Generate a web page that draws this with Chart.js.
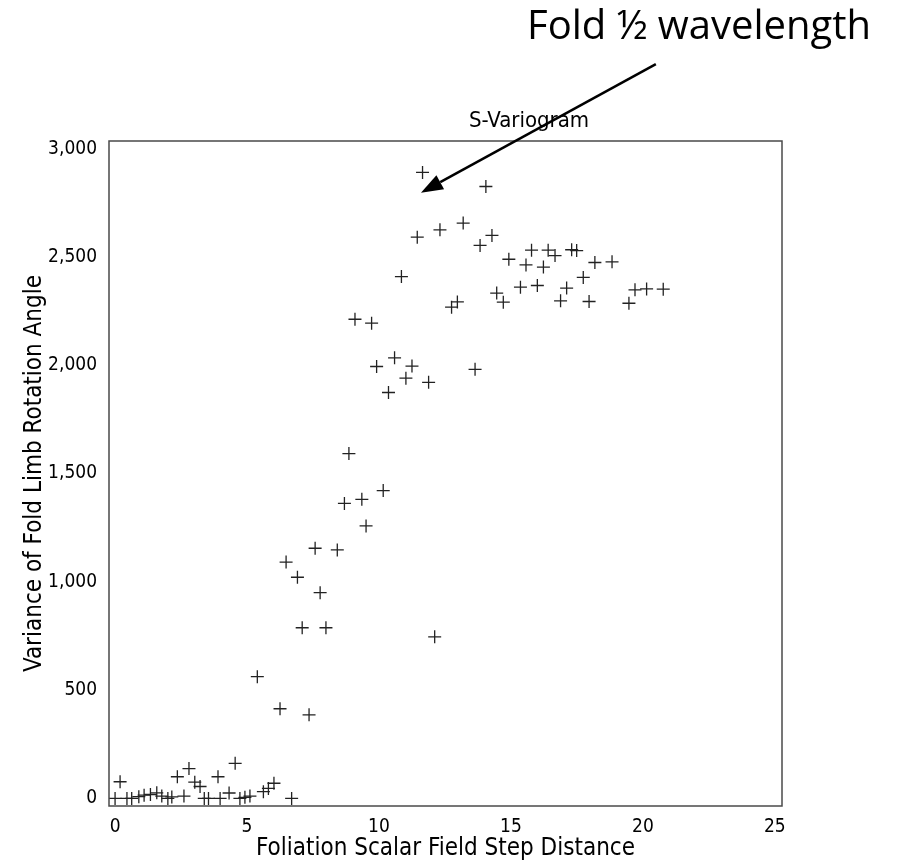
<!DOCTYPE html>
<html>
<head>
<meta charset="utf-8">
<script src="https://cdn.jsdelivr.net/npm/chart.js@4.4.1/dist/chart.umd.min.js"></script>
<style>
  html, body { margin: 0; padding: 0; background: #fff; }
  #wrap { width: 900px; height: 867px; }
</style>
</head>
<body>
<div id="wrap"><canvas id="chart1" width="900" height="867"></canvas></div>
<script>
// step distance (x) and variance (y)
const stepDist = [
  0.0, 0.19, 0.45, 0.63, 0.9, 1.1, 1.34, 1.58, 1.77, 2.0,
  2.15, 2.36, 2.61, 2.8, 3.02, 3.22, 3.38, 3.54, 3.9, 3.98,
  4.32, 4.55, 4.73, 4.92, 5.11, 5.62, 5.81, 6.02, 6.69,
  5.39, 6.25, 7.35, 6.48, 6.91, 7.09, 7.58, 7.77, 7.99, 8.42,
  8.69, 8.86, 9.35, 9.51, 10.16, 12.11, 9.09, 9.72, 9.91, 10.36,
  10.59, 10.85, 11.02, 11.25, 11.45, 11.65, 11.88, 12.31, 12.75, 12.97,
  13.19, 13.64, 13.83, 14.05, 14.28, 14.46, 14.71, 14.92, 15.36, 15.57,
  15.78, 16.0, 16.23, 16.41, 16.67, 16.88, 17.11, 17.3, 17.49, 17.74,
  17.96, 18.18, 18.83, 19.47, 19.7, 20.14, 20.77
];
const variance = [
  0, 77, 0, 0, 8, 15, 18, 26, 11, 0,
  7, 100, 11, 138, 75, 55, 0, 0, 100, 0,
  25, 162, 0, 5, 11, 31, 46, 70, 0,
  562, 414, 386, 1091, 1021, 788, 1155, 950, 788, 1147,
  1362, 1592, 1381, 1258, 1421, 746, 2212, 2194, 1994, 1874,
  2034, 2409, 1940, 1996, 2591, 2890, 1921, 2625, 2268, 2292,
  2656, 1981, 2553, 2825, 2599, 2333, 2291, 2489, 2360, 2463,
  2531, 2368, 2453, 2531, 2506, 2297, 2356, 2533, 2529, 2405,
  2294, 2474, 2477, 2286, 2348, 2352, 2351
];
const xTicks = [0, 5, 10, 15, 20, 25];
const yTicks = [0, 500, 1000, 1500, 2000, 2500, 3000];

// arrow annotation, in data units: from the label down to just under the peak
const arrowFrom = [20.49, 3390];
const arrowTo = [11.59, 2796];

const points = stepDist.map((x, i) => ({ x: x, y: variance[i] }));

const axisFont = '"DejaVu Sans Condensed", "Liberation Sans Narrow", sans-serif';

const decor = {
  id: 'decor',
  afterDraw(chart) {
    const ctx = chart.ctx;
    const a = chart.chartArea;
    const xs = chart.scales.x, ys = chart.scales.y;
    ctx.save();
    // frame
    ctx.strokeStyle = '#4a4a4a';
    ctx.lineWidth = 1.5;
    ctx.strokeRect(a.left, a.top, a.right - a.left, a.bottom - a.top);

    // chart title
    ctx.fillStyle = '#000';
    ctx.font = '22px ' + axisFont;
    ctx.textAlign = 'center';
    ctx.textBaseline = 'middle';
    ctx.fillText('S-Variogram', 529, 121);

    // big label
    ctx.font = '40px "Open Sans", "Noto Sans", sans-serif';
    ctx.textAlign = 'left';
    ctx.textBaseline = 'alphabetic';
    ctx.fillText('Fold ½ wavelength', 527, 39);

    // arrow
    const x1 = xs.getPixelForValue(arrowFrom[0]), y1 = ys.getPixelForValue(arrowFrom[1]);
    const x2 = xs.getPixelForValue(arrowTo[0]), y2 = ys.getPixelForValue(arrowTo[1]);
    const ang = Math.atan2(y2 - y1, x2 - x1);
    const headLen = 22, headW = 8;
    const bx = x2 - headLen * Math.cos(ang), by = y2 - headLen * Math.sin(ang);
    ctx.strokeStyle = '#000';
    ctx.lineWidth = 2.5;
    ctx.beginPath();
    ctx.moveTo(x1, y1);
    ctx.lineTo(bx, by);
    ctx.stroke();
    ctx.beginPath();
    ctx.moveTo(x2, y2);
    ctx.lineTo(bx + headW * Math.sin(ang), by - headW * Math.cos(ang));
    ctx.lineTo(bx - headW * Math.sin(ang), by + headW * Math.cos(ang));
    ctx.closePath();
    ctx.fill();
    ctx.restore();
  }
};

const config1 = {
  type: 'scatter',
  data: {
    datasets: [{
      label: 'S-Variogram',
      data: points,
      pointStyle: 'cross',
      pointRadius: 6.5,
      pointHoverRadius: 6.5,
      borderColor: '#222',
      backgroundColor: '#222',
      pointBorderWidth: 1.3
    }]
  },
  options: {
    responsive: false,
    animation: false,
    layout: { padding: { top: 141, right: 118, left: 0, bottom: 0 } },
    plugins: {
      legend: { display: false },
      tooltip: { enabled: false },
      title: { display: false }
    },
    scales: {
      x: {
        type: 'linear',
        min: -0.23,
        max: 25.27,
        afterBuildTicks: s => { s.ticks = xTicks.map(v => ({ value: v })); },
        afterFit: s => { s.height = 61; },
        grid: { display: false, drawTicks: false },
        border: { display: false },
        ticks: { padding: 10, color: '#000', font: { family: axisFont, size: 19 } },
        title: {
          display: true,
          text: 'Foliation Scalar Field Step Distance',
          color: '#000',
          font: { family: axisFont, size: 24 },
          padding: { top: 0, bottom: 4 }
        }
      },
      y: {
        type: 'linear',
        min: -35,
        max: 3035,
        afterBuildTicks: s => { s.ticks = yTicks.map(v => ({ value: v })); },
        afterFit: s => { s.width = 109; },
        grid: { display: false, drawTicks: false },
        border: { display: false },
        ticks: {
          padding: 12,
          color: '#000',
          font: { family: axisFont, size: 19 },
          callback: v => v.toLocaleString('en-US')
        },
        title: {
          display: true,
          text: 'Variance of Fold Limb Rotation Angle',
          color: '#000',
          font: { family: axisFont, size: 24 },
          padding: { top: 20, bottom: 0 }
        }
      }
    }
  },
  plugins: [decor]
};

const chart1 = new Chart(document.getElementById('chart1'), config1);
</script>
</body>
</html>
